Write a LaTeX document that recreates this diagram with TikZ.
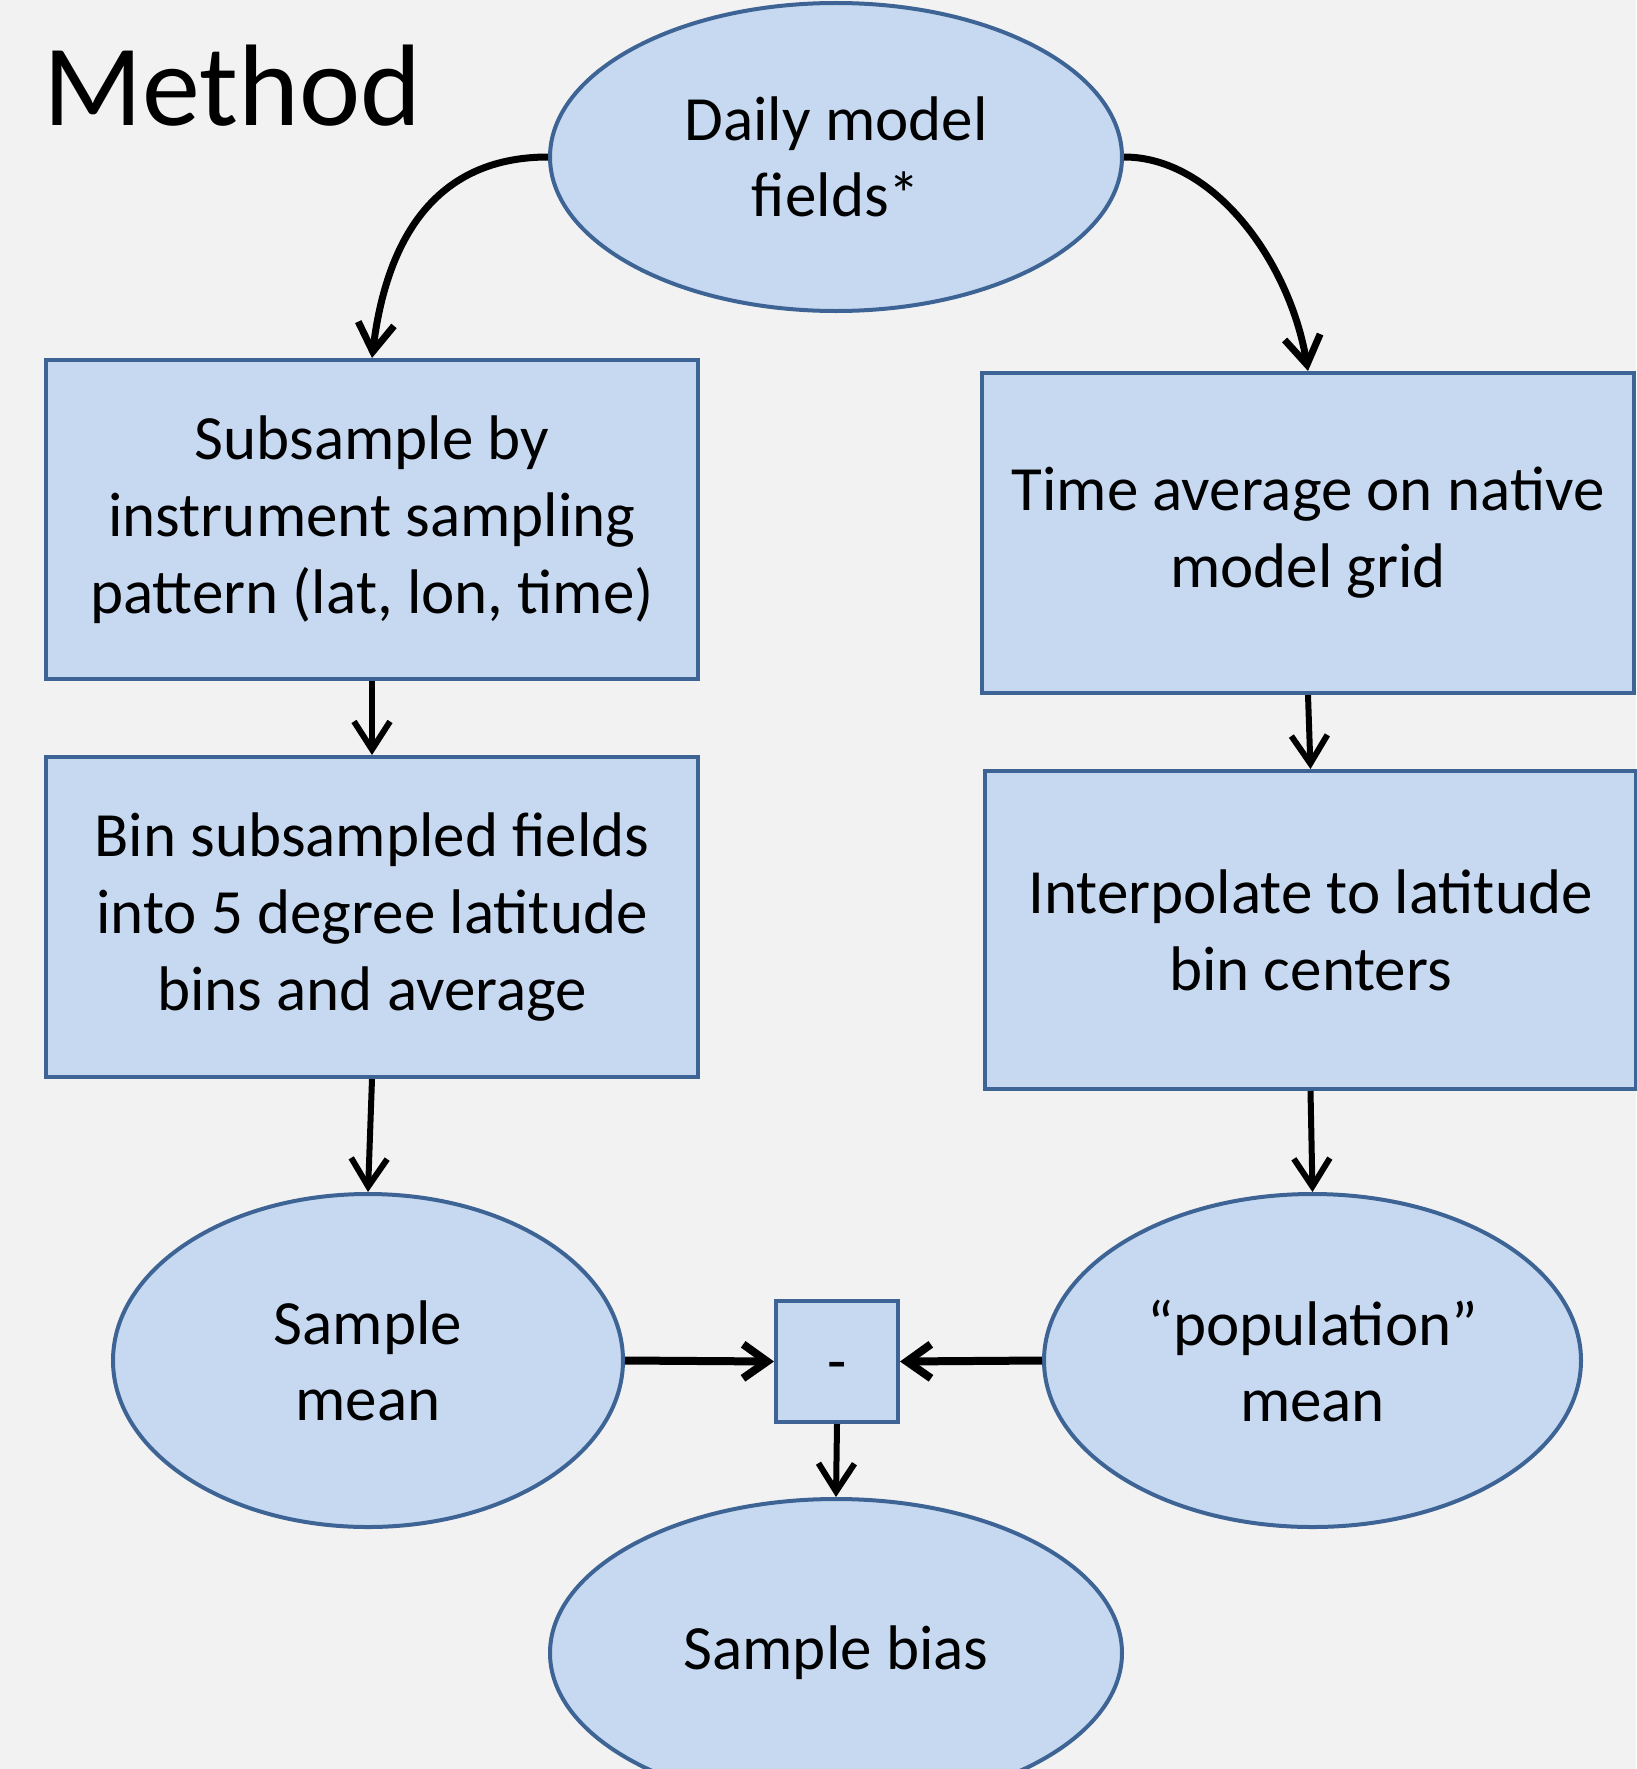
\documentclass[tikz,border=0pt]{standalone}
\usepackage{fontspec}
\setmainfont{Carlito}
\usetikzlibrary{arrows.meta,shapes.geometric}
\definecolor{bgc}{HTML}{F2F2F2}
\definecolor{fillb}{HTML}{C6D9F1}
\definecolor{edgeb}{HTML}{3D6494}
\begin{document}
\begin{tikzpicture}[x=1pt,y=-1pt,
  boxnode/.style={draw=edgeb, fill=fillb, line width=4pt, rectangle, inner sep=0pt, align=center, font=\fontsize{63}{77}\selectfont},
  ovalnode/.style={draw=edgeb, fill=fillb, line width=4pt, ellipse, inner sep=0pt, align=center, font=\fontsize{63}{76}\selectfont},
  flow/.style={line width=6pt, -{Straight Barb[length=28pt,width=36pt]}},
  flowthick/.style={line width=8pt, -{Straight Barb[length=24pt,width=34pt]}},
]
\useasboundingbox (0,0) rectangle (1636,1769);
\fill[bgc] (0,0) rectangle (1636,1769);

\node[anchor=base west, font=\fontsize{116}{130}\selectfont] (title) at (40,125) {Method};

\node[ovalnode, minimum width=572pt, minimum height=308pt] (top) at (836,157) {Daily model\\fields*};

\node[boxnode, minimum width=652pt, minimum height=319pt] (l1) at (372,519.5) {Subsample by\\instrument sampling\\pattern (lat, lon, time)};
\node[boxnode, minimum width=652pt, minimum height=320pt] (l2) at (372,917) {Bin subsampled fields\\into 5 degree latitude\\bins and average};

\node[boxnode, minimum width=652pt, minimum height=320pt] (r1) at (1308,533) {Time average on native\\model grid};
\node[boxnode, minimum width=651pt, minimum height=318pt] (r2) at (1310.5,930) {Interpolate to latitude\\bin centers};

\node[ovalnode, minimum width=510pt, minimum height=333pt] (sm) at (368,1360.5) {Sample\\mean};
\node[ovalnode, minimum width=537pt, minimum height=333pt] (pm) at (1312.5,1360.5) {“population”\\mean};

\node[boxnode, minimum width=122pt, minimum height=121pt] (minus) at (837,1361.5) {\smash{\raisebox{-21pt}{-}}};

\node[ovalnode, minimum width=572pt, minimum height=308pt] (sb) at (836,1653) {Sample bias};

\draw[flow, line width=7pt] (top.west) .. controls +(-120,0) and (385,250) .. (l1.north);
\draw[flow, line width=7pt] (top.east) .. controls +(90,0) and (1290,262) .. (r1.north);
\draw[flow] (l1.south) -- (l2.north);
\draw[flow] (r1.south) -- (r2.north);
\draw[flow] (l2.south) -- (sm.north);
\draw[flow] (r2.south) -- (pm.north);
\draw[flowthick] (sm.east) -- (minus.west);
\draw[flowthick] (pm.west) -- (minus.east);
\draw[flow] (minus.south) -- (sb.north);
\end{tikzpicture}
\end{document}
